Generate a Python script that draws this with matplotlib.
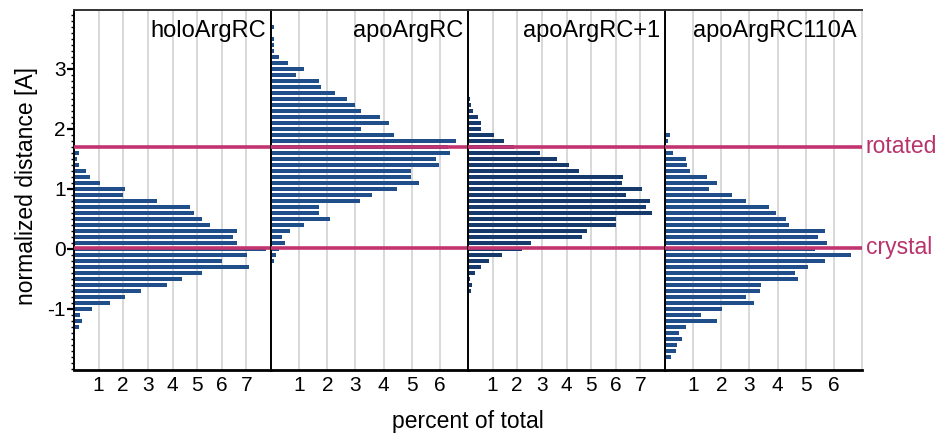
import numpy as np
import matplotlib
matplotlib.use("Agg")
from matplotlib import pyplot as plt
from matplotlib.ticker import MultipleLocator, FixedLocator

plt.rcParams['font.family'] = ['Liberation Sans', 'DejaVu Sans']
plt.rcParams['axes.unicode_minus'] = False

# histogram values (percent of total), listed from lowest to highest bin
# bins are 0.1 A wide, first entry is the bin given in *_first
holo_first = -1.3
holo_values = [0.22, 0.32, 0.24, 0.73, 1.48, 2.06, 2.73, 3.79, 4.37, 5.20,
               7.12, 6.03, 7.01, 7.78, 6.60, 6.44, 6.60, 5.54, 5.20, 4.88,
               4.70, 3.38, 1.98, 2.06, 1.07, 0.63, 0.48, 0.22, 0.14, 0.22]

apo_first = -0.2
apo_values = [0.09, 0.18, 0.29, 0.50, 0.40, 0.69, 1.19, 2.09, 1.70, 1.70,
              3.18, 3.58, 4.48, 5.27, 4.97, 4.97, 5.96, 5.87, 6.37, 6.28,
              6.56, 4.38, 3.19, 4.18, 3.88, 3.19, 2.99, 2.69, 2.29, 1.79,
              1.70, 0.89, 1.19, 0.59, 0.30, 0.09, 0.09, 0.09, 0.0, 0.09]

apo1_first = -1.1
apo1_values = [0.05, 0.05, 0.05, 0.0, 0.13, 0.16, 0.10, 0.30, 0.53, 0.86,
               1.38, 2.21, 2.55, 4.64, 4.83, 6.02, 6.02, 7.49, 7.21, 7.39,
               6.40, 7.05, 6.26, 6.31, 4.50, 4.11, 3.63, 2.93, 1.87, 1.45,
               1.06, 0.54, 0.53, 0.42, 0.20, 0.13, 0.09, 0.06]

c110a_first = -1.8
c110a_values = [0.23, 0.39, 0.43, 0.60, 0.50, 0.73, 1.86, 1.27, 2.02, 3.17,
                2.89, 3.37, 3.40, 4.74, 4.63, 5.08, 5.69, 6.60, 5.33, 5.75,
                5.44, 5.69, 4.39, 4.30, 3.96, 3.69, 2.87, 2.37, 1.56, 1.86,
                1.50, 0.89, 0.79, 0.73, 0.29, 0.0, 0.10, 0.19, 0.04, 0.03]

panel_names = ["holoArgRC", "apoArgRC", "apoArgRC+1", "apoArgRC110A"]
panel_xmax = [8, 7, 8, 7]
panel_xticks = [[1, 2, 3, 4, 5, 6, 7], [1, 2, 3, 4, 5, 6],
                [1, 2, 3, 4, 5, 6, 7], [1, 2, 3, 4, 5, 6]]

ref_levels = [1.70, 0.02]
ref_labels = ["rotated", "crystal"]

bar_colors = ["#1f4e8a", "#1f4e8a", "#173a6c", "#1f4e8a"]
line_color = "#c2346f"
grid_color = "#d6d6d6"

def bin_centers(first, n):
    return np.round(first + 0.1 * np.arange(n), 1)

panels = [(holo_first, holo_values), (apo_first, apo_values),
          (apo1_first, apo1_values), (c110a_first, c110a_values)]

fig = plt.figure(figsize=(9.4, 4.36), dpi=100)
left, right, bottom, top = 74 / 940, 862 / 940, 1 - 370 / 436, 1 - 10 / 436
w = (right - left) / 4

axes = []
for i, (first, vals) in enumerate(panels):
    ax = fig.add_axes([left + i * w, bottom, w, top - bottom])
    axes.append(ax)
    ys = bin_centers(first, len(vals))
    ax.barh(ys, vals, height=0.066, color=bar_colors[i], zorder=2)
    ax.set_xlim(0, panel_xmax[i])
    ax.set_ylim(-2.02, 3.98)
    ax.set_xticks(panel_xticks[i])
    ax.xaxis.grid(True, color=grid_color, lw=1.3, zorder=0)
    ax.set_axisbelow(True)
    ax.tick_params(axis='x', length=0, pad=4, labelsize=15)
    for lvl in ref_levels:
        ax.axhline(lvl, color=line_color, lw=2.6, zorder=5)
    ax.spines['left'].set_linewidth(1.4)
    ax.spines['bottom'].set_linewidth(2.0)
    ax.spines['top'].set_linewidth(1.4)
    ax.spines['top'].set_color("#333333")
    ax.spines['right'].set_visible(False)
    ax.text(0.975, 0.925, panel_names[i], transform=ax.transAxes,
            ha='right', va='baseline', fontsize=17)
    if i == 0:
        ax.yaxis.set_major_locator(FixedLocator([-1, 0, 1, 2, 3]))
        ax.yaxis.set_minor_locator(MultipleLocator(0.1))
        ax.tick_params(axis='y', which='major', length=5, width=1.6, pad=1, labelsize=15)
        ax.tick_params(axis='y', which='minor', length=2, width=1)
    else:
        ax.set_yticks([])
        ax.tick_params(axis='y', which='both', length=0)

last = axes[-1]
last.spines['right'].set_visible(True)
last.spines['right'].set_color(grid_color)
last.spines['right'].set_linewidth(1.3)
for lvl, lab in zip(ref_levels, ref_labels):
    last.text(1.02, lvl, lab, transform=last.get_yaxis_transform(),
              ha='left', va='center', fontsize=16.5, color="#b8336c")

fig.text(0.028, 0.573, "normalized distance [A]", rotation=90,
         ha='center', va='center', fontsize=16.5)
fig.text((left + right) / 2, 0.019, "percent of total",
         ha='center', va='baseline', fontsize=16.5)

fig.savefig("out.png", dpi=100, facecolor="white")
